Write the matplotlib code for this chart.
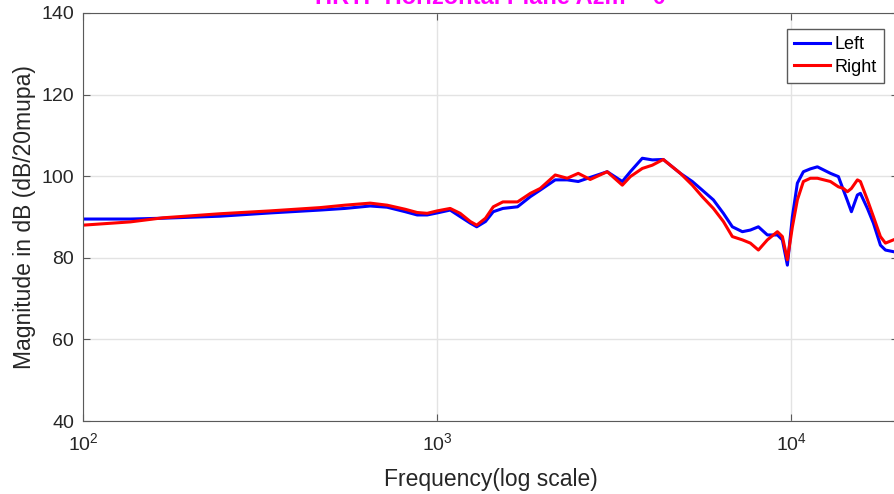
import matplotlib
matplotlib.use("Agg")
from matplotlib import pyplot as plt
from matplotlib.ticker import NullLocator

plt.rcParams['font.family'] = ['Liberation Sans', 'DejaVu Sans']

# frequency grid (Hz)
freq = [100, 136, 168, 244, 338, 467, 549, 647, 722, 812, 878, 937, 1000, 1088,
        1161, 1240, 1293, 1369, 1440, 1533, 1686, 1833, 1954, 2154, 2329, 2502,
        2704, 3020, 3332, 3510, 3794, 4049, 4348, 4859, 5252, 5600, 6022, 6427,
        6813, 7271, 7659, 8070, 8555, 9130, 9432, 9743, 10066, 10397, 10812,
        11316, 11843, 12890, 13576, 14025, 14394, 14774, 15360, 15664, 16394,
        17045, 17840, 18432, 19420]

left = [89.5, 89.5, 89.7, 90.2, 91.0, 91.7, 92.1, 92.7, 92.4, 91.3, 90.5, 90.5, 91.0, 91.7,
        90.1, 88.5, 87.6, 88.9, 91.3, 92.1, 92.5, 95.0, 96.6, 99.1, 99.1, 98.7,
        99.7, 101.1, 98.7, 101.1, 104.4, 104.0, 104.1, 100.7, 98.7, 96.6, 94.2, 90.9,
        87.6, 86.4, 86.8, 87.6, 85.6, 85.6, 84.4, 78.2, 90.1, 98.3, 101.1,
        101.8, 102.3, 100.7, 99.9, 96.6, 94.0, 91.3, 95.4, 95.8, 92.1,
        88.5, 83.1, 81.9, 81.5]

right = [88.0, 88.8, 89.8, 90.8, 91.5, 92.3, 92.9, 93.4, 92.9, 91.9, 91.1, 90.9, 91.5, 92.1,
         90.9, 88.9, 88.0, 89.7, 92.5, 93.7, 93.7, 95.8, 97.0, 100.3, 99.5, 100.7,
         99.2, 101.1, 97.8, 99.9, 101.9, 102.7, 104.1, 100.7, 97.8, 95.0, 92.1, 88.9,
         85.2, 84.4, 83.6, 81.9, 84.4, 86.4, 85.2, 79.5, 87.6, 94.2, 98.7,
         99.5, 99.5, 98.7, 97.4, 97.0, 96.2, 97.0, 99.1, 98.7, 94.2,
         90.1, 85.2, 83.6, 84.4]

yticks = [40, 60, 80, 100, 120, 140]

fig = plt.figure(figsize=(8.94, 4.94), dpi=100)
ax = fig.add_axes([83 / 894, 73 / 494, 815 / 894, 408 / 494])

ax.plot(freq, left, color='#0000ff', lw=2.2, label='Left', solid_joinstyle='round')
ax.plot(freq, right, color='#ff0000', lw=2.2, label='Right', solid_joinstyle='round')

ax.set_xscale('log')
ax.set_xlim(100, 20000)
ax.set_ylim(40, 140)
ax.set_yticks(yticks)
ax.xaxis.set_minor_locator(NullLocator())

ax.grid(True, color='#e3e3e3', lw=1)
ax.set_axisbelow(True)
for s in ax.spines.values():
    s.set_color('#5a5a5a')
ax.tick_params(direction='in', length=5, colors='#5a5a5a', labelcolor='#262626',
               labelsize=14, top=True, right=True)
ax.tick_params(axis='y', pad=6.5)
ax.tick_params(axis='x', pad=8)

ax.set_xlabel('Frequency(log scale)', fontsize=16.5, color='#262626', labelpad=10)
ax.set_ylabel('Magnitude in dB (dB/20mupa)', fontsize=16.5, color='#262626', labelpad=4)

fig.text(490 / 894, 1 - 4 / 494, 'HRTF Horizontal Plane Azm = 0', color='#ff00ff',
         fontsize=17, fontweight='bold', ha='center', va='baseline')

leg = ax.legend(loc='upper right', fontsize=13, handlelength=2.0,
                fancybox=False, framealpha=1, edgecolor='#5a5a5a',
                borderpad=0.4, labelspacing=0.3, handletextpad=0.25, borderaxespad=0)
leg.get_frame().set_linewidth(1)
leg.set_bbox_to_anchor(((884 - 83) / 815, 1 - 16 / 408), transform=ax.transAxes)

fig.savefig('out.png', dpi=100)
